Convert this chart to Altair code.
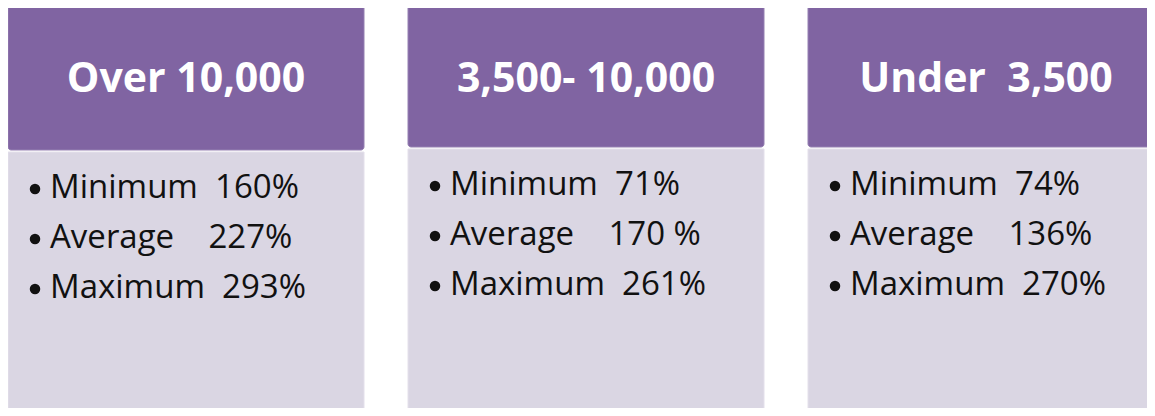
import altair as alt
import pandas as pd

# ---- data ----
headers = ["Over 10,000", "3,500- 10,000", "Under\u00a0\u00a03,500"]
labels = ["Minimum", "Average", "Maximum"]
values_over = ["160%", "227%", "293%"]
values_mid = ["71%", "170\u00a0%", "261%"]
values_under = ["74%", "136%", "270%"]
values = [values_over, values_mid, values_under]
label_gaps = [2, 4, 2]  # spaces between label and value

# ---- layout constants ----
W, H = 1139, 400
SLOT = 400.0
PANEL_W = 356.0
shift = [3, 0, 0]

panel_rows = []
for i, h in enumerate(headers):
    s = shift[i]
    panel_rows.append(dict(
        x=i, x2=i + PANEL_W / SLOT, head=h,
        htop=-6, hbot=139 + s, btop=141 + s, bbot=H + 6,
        hx=i + PANEL_W / 2 / SLOT, hy=84,
    ))
panels = pd.DataFrame(panel_rows)

line_rows = []
for i in range(len(headers)):
    for j, lab in enumerate(labels):
        y = 187 + shift[i] + 50 * j
        line_rows.append(dict(
            tx=i + 0.105, bx=i + 0.0675, ty=y, by=y - 9,
            text=lab + "\u00a0" * label_gaps[j] + values[i][j],
        ))
lines = pd.DataFrame(line_rows)

xs = alt.Scale(domain=[0, W / SLOT], range=[0, W])
ys = alt.Scale(domain=[0, H], range=[0, H])

base_p = alt.Chart(panels)
base_l = alt.Chart(lines)

body = base_p.mark_rect(fill="#DAD6E3", stroke="#E4E0EB", strokeWidth=1, clip=True).encode(
    x=alt.X("x:Q", scale=xs, axis=None), x2="x2:Q",
    y=alt.Y("btop:Q", scale=ys, axis=None), y2="bbot:Q",
)
header = base_p.mark_rect(fill="#8064A2", stroke="#9580B2", strokeWidth=1, cornerRadius=3, clip=True).encode(
    x=alt.X("x:Q", scale=xs, axis=None), x2="x2:Q",
    y=alt.Y("htop:Q", scale=ys, axis=None), y2="hbot:Q",
)
head_text = base_p.mark_text(
    font="Open Sans", fontSize=41, fontWeight="bold", color="white",
    align="center", baseline="alphabetic", clip=True,
).encode(
    x=alt.X("hx:Q", scale=xs, axis=None),
    y=alt.Y("hy:Q", scale=ys, axis=None),
    text="head:N",
)
bullets = base_l.mark_point(shape="circle", filled=True, size=110, color="#111111", opacity=1, clip=True).encode(
    x=alt.X("bx:Q", scale=xs, axis=None),
    y=alt.Y("by:Q", scale=ys, axis=None),
)
body_text = base_l.mark_text(
    font="Open Sans", fontSize=33, color="#111111",
    align="left", baseline="alphabetic", clip=True,
).encode(
    x=alt.X("tx:Q", scale=xs, axis=None),
    y=alt.Y("ty:Q", scale=ys, axis=None),
    text="text:N",
)

chart = alt.layer(body, header, head_text, bullets, body_text).properties(
    width=W, height=H, padding=0, autosize="none", background="white",
).configure_view(stroke=None)

chart.save("out.html", embed_options={"renderer": "svg", "actions": False})
